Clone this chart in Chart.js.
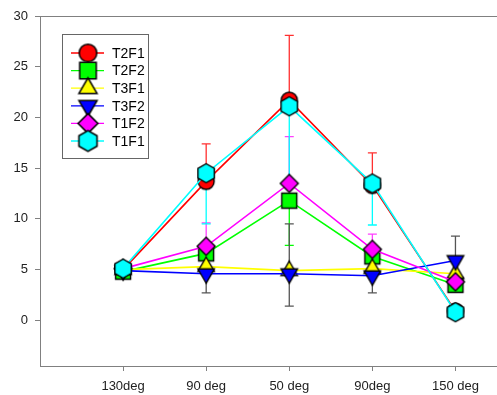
<!DOCTYPE html>
<html>
<head>
<meta charset="utf-8">
<script src="https://cdn.jsdelivr.net/npm/chart.js@4/dist/chart.umd.min.js"></script>
<style>
  html, body { margin: 0; padding: 0; background: #fff; }
  #wrap { width: 497px; height: 395px; }
</style>
</head>
<body>
<div id="wrap"><canvas id="angleChart" width="497" height="395"></canvas></div>
<script>
// categories on the x axis
const categories = ["130deg", "90 deg", "50 deg", "90deg", "150 deg"];
const yTicks = [0, 5, 10, 15, 20, 25, 30];

// series values
const seriesNames = ["T2F1", "T2F2", "T3F1", "T3F2", "T1F2", "T1F1"];
const t2f1 = [5.0, 13.7, 21.7, 13.3, 0.9];
const t2f2 = [4.8, 6.6, 11.8, 6.3, 3.5];
const t3f1 = [5.0, 5.3, 4.9, 5.1, 4.6];
const t3f2 = [4.9, 4.6, 4.6, 4.4, 5.9];
const t1f2 = [5.1, 7.3, 13.5, 7.0, 3.8];
const t1f1 = [5.1, 14.5, 21.1, 13.5, 0.8];

// error bars (one sided as in the original)
const t2f1ErrUp = [0, 3.7, 6.4, 3.2, 0];
const t2f2ErrDown = [0, 0, 4.4, 0, 0];
const t3f2ErrUp = [0, 0, 4.9, 0, 2.4];
const t3f2ErrDown = [0, 1.9, 3.2, 1.7, 0];
const t1f2ErrUp = [0, 2.3, 4.6, 1.5, 0];
const t1f1ErrDown = [0, 5.0, 8.0, 4.1, 0];

// marker images (hexagon is not a built in point style)
function makeMarker(shape, fill, scale) {
  const k = scale || 1;
  const c = document.createElement("canvas");
  const s = Math.ceil(24 * k);
  c.width = s;
  c.height = s;
  const g = c.getContext("2d");
  const m = s / 2;
  g.beginPath();
  if (shape === "circle") {
    g.arc(m, m, 8 * k, 0, Math.PI * 2);
  } else if (shape === "square") {
    g.rect(m - 7.5 * k, m - 7.5 * k, 15 * k, 15 * k);
  } else {
    let n, r, start;
    if (shape === "triangle") { n = 3; r = 9.5 * k; start = -90; }
    if (shape === "triangleDown") { n = 3; r = 9.5 * k; start = 90; }
    if (shape === "diamond") { n = 4; r = 9 * k; start = -90; }
    if (shape === "hexagon") { n = 6; r = 9.5 * k; start = -90; }
    for (let i = 0; i < n; i++) {
      const a = (start + i * 360 / n) * Math.PI / 180;
      const px = m + r * Math.cos(a);
      const py = m + r * Math.sin(a);
      if (i === 0) g.moveTo(px, py); else g.lineTo(px, py);
    }
    g.closePath();
  }
  g.fillStyle = fill;
  g.fill();
  g.lineWidth = 1.4 * k;
  g.strokeStyle = "#000";
  g.stroke();
  return c;
}

const colors = ["#ff0000", "#00ff00", "#ffff00", "#0000ff", "#ff00ff", "#00ffff"];
const shapes = ["circle", "square", "triangle", "triangleDown", "diamond", "hexagon"];
const values = [t2f1, t2f2, t3f1, t3f2, t1f2, t1f1];
const errUp = [t2f1ErrUp, null, null, t3f2ErrUp, t1f2ErrUp, null];
const errDown = [null, t2f2ErrDown, null, t3f2ErrDown, null, t1f1ErrDown];
const errColors = ["#ff3030", "#00ff00", "#ffff00", "#555555", "#ff40ff", "#00ffff"];

const markers = shapes.map((s, i) => makeMarker(s, colors[i], 1));
const legendMarkers = shapes.map((s, i) => makeMarker(s, colors[i], 1.1));

const datasets = seriesNames.map((name, i) => ({
  label: name,
  data: values[i].map((v, j) => ({ x: j, y: v })),
  borderColor: colors[i],
  borderWidth: 1.6,
  pointStyle: markers[i],
  pointRadius: 9,
  fill: false,
  tension: 0,
  order: seriesNames.length - 1 - i, // last series sits on top
}));

const errorBars = {
  id: "errorBars",
  beforeDatasetsDraw(chart) {
    const { ctx } = chart;
    const xs = chart.scales.x;
    const ys = chart.scales.y;
    ctx.save();
    ctx.lineWidth = 1.3;
    values.forEach((vals, i) => {
      ctx.strokeStyle = errColors[i];
      vals.forEach((v, j) => {
        const up = errUp[i] ? errUp[i][j] : 0;
        const down = errDown[i] ? errDown[i][j] : 0;
        if (!up && !down) return;
        const px = xs.getPixelForValue(j);
        const top = ys.getPixelForValue(v + up);
        const bot = ys.getPixelForValue(v - down);
        ctx.beginPath();
        ctx.moveTo(px, top);
        ctx.lineTo(px, bot);
        if (up) { ctx.moveTo(px - 4.5, top); ctx.lineTo(px + 4.5, top); }
        if (down) { ctx.moveTo(px - 4.5, bot); ctx.lineTo(px + 4.5, bot); }
        ctx.stroke();
      });
    });
    ctx.restore();
  },
  afterDraw(chart) {
    const { ctx, chartArea } = chart;
    ctx.save();
    // top frame line
    ctx.strokeStyle = "#808080";
    ctx.lineWidth = 1;
    ctx.beginPath();
    ctx.moveTo(chartArea.left, chartArea.top + 0.5);
    ctx.lineTo(chartArea.right, chartArea.top + 0.5);
    ctx.stroke();

    // legend box
    const bx = 62, by = 34, bw = 86, bh = 124;
    ctx.fillStyle = "#fff";
    ctx.fillRect(bx, by, bw, bh);
    ctx.strokeStyle = "#666";
    ctx.strokeRect(bx + 0.5, by + 0.5, bw, bh);
    ctx.font = "14px 'Liberation Sans', Arial, sans-serif";
    ctx.textBaseline = "middle";
    seriesNames.forEach((name, i) => {
      const ry = 53 + i * 17.6;
      ctx.strokeStyle = colors[i];
      ctx.lineWidth = 1.3;
      ctx.beginPath();
      ctx.moveTo(71, ry);
      ctx.lineTo(104, ry);
      ctx.stroke();
      const img = legendMarkers[i];
      ctx.drawImage(img, 88 - img.width / 2, ry - img.height / 2);
      ctx.fillStyle = "#000";
      ctx.fillText(name, 112, ry + 1);
    });
    ctx.restore();
  },
};

const axisFont = { family: "'Liberation Sans', Arial, sans-serif", size: 13 };

new Chart(document.getElementById("angleChart"), {
  type: "line",
  data: { datasets },
  plugins: [errorBars],
  options: {
    responsive: false,
    animation: false,
    // no auto padding for the big markers: plot runs to the right edge
    layout: { autoPadding: false, padding: { top: 16, right: 0, left: 0, bottom: 0 } },
    plugins: {
      legend: { display: false },
      tooltip: { enabled: false },
    },
    scales: {
      x: {
        type: "linear",
        min: -1,
        max: 4.5,
        afterBuildTicks(scale) {
          scale.ticks = categories.map((c, i) => ({ value: i }));
        },
        afterFit(scale) {
          scale.height = 29;
        },
        ticks: {
          callback: (v) => categories[v],
          color: "#222",
          font: axisFont,
          padding: 8,
          maxRotation: 0,
        },
        grid: { drawOnChartArea: false, drawTicks: true, tickLength: 5, color: "#808080" },
        border: { display: true, color: "#808080" },
      },
      y: {
        min: -4.5,
        max: 30,
        afterBuildTicks(scale) {
          scale.ticks = yTicks.map((v) => ({ value: v }));
        },
        afterFit(scale) {
          scale.width = 40;
        },
        ticks: { color: "#222", font: axisFont, padding: 7 },
        grid: { drawOnChartArea: false, drawTicks: true, tickLength: 5, color: "#808080" },
        border: { display: true, color: "#808080" },
      },
    },
  },
});
</script>
</body>
</html>
